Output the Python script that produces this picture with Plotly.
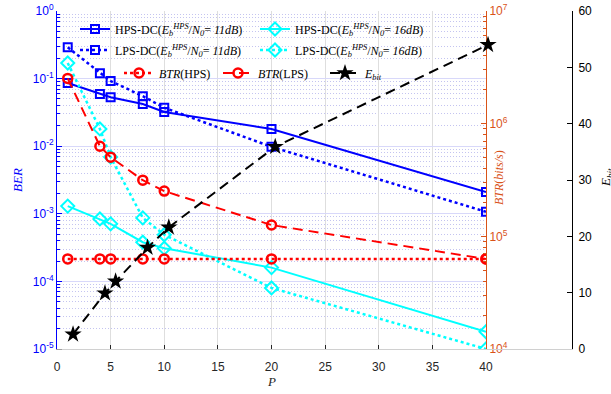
import plotly.graph_objects as go

# ---------------- data ----------------
P = [1, 4, 5, 8, 10, 20, 40]
ber_hps_11 = [0.086, 0.059, 0.053, 0.042, 0.032, 0.018, 0.0021]
ber_lps_11 = [0.29, 0.12, 0.092, 0.055, 0.037, 0.0098, 0.00107]
ber_hps_16 = [0.0013, 8.4e-4, 7.1e-4, 3.8e-4, 3.1e-4, 1.6e-4, 1.8e-5]
ber_lps_16 = [0.17, 0.018, 0.0069, 8.7e-4, 4.9e-4, 8.0e-5, 1.0e-5]
btr_hps = [6.3e4, 6.3e4, 6.3e4, 6.3e4, 6.3e4, 6.3e4, 6.3e4]
btr_lps = [2.52e6, 6.3e5, 5.04e5, 3.15e5, 2.52e5, 1.26e5, 6.3e4]
e_bit = [2.6, 9.9, 12.0, 18.0, 21.6, 35.9, 54.0]

x_ticks = [0, 5, 10, 15, 20, 25, 30, 35, 40]
ber_exps = [-5, -4, -3, -2, -1, 0]
btr_exps = [4, 5, 6, 7]
ebit_ticks = [0, 10, 20, 30, 40, 50, 60]

names = [
    "HPS-DC(<i>E</i><sub><i>b</i></sub><sup><i>HPS</i></sup>/<i>N</i><sub><i>0</i></sub>= <i>11dB</i>)",
    "HPS-DC(<i>E</i><sub><i>b</i></sub><sup><i>HPS</i></sup>/<i>N</i><sub><i>0</i></sub>= <i>16dB</i>)",
    "LPS-DC(<i>E</i><sub><i>b</i></sub><sup><i>HPS</i></sup>/<i>N</i><sub><i>0</i></sub>= <i>11dB</i>)",
    "LPS-DC(<i>E</i><sub><i>b</i></sub><sup><i>HPS</i></sup>/<i>N</i><sub><i>0</i></sub>= <i>16dB</i>)",
    "<i>BTR</i>(HPS)",
    "<i>BTR</i>(LPS)",
    "<i>E</i><sub><i>bit</i></sub>",
]

W, H = 611, 394
ML, MR, MT, MB = 57, 39, 11, 45
PW = W - ML - MR
PH = H - MT - MB
main_right = 486
ebit_left = 62.4

BLUE = "#0000FF"
CYAN = "#00FFFF"
RED = "#FF0000"
ORANGE = "#D95319"
SERIF = "Liberation Serif"
SANS = "Liberation Sans"

fig = go.Figure()

fig.add_trace(go.Scatter(x=P, y=ber_hps_11, name=names[0], mode="lines+markers",
                         line=dict(color=BLUE, width=2),
                         marker=dict(symbol="square-open", size=8, color=BLUE, line=dict(width=2, color=BLUE)),
                         xaxis="x", yaxis="y", legend="legend"))
fig.add_trace(go.Scatter(x=P, y=ber_hps_16, name=names[1], mode="lines+markers",
                         line=dict(color=CYAN, width=2),
                         marker=dict(symbol="diamond-open", size=10, color=CYAN, line=dict(width=2, color=CYAN)),
                         xaxis="x", yaxis="y", legend="legend2"))
fig.add_trace(go.Scatter(x=P, y=ber_lps_11, name=names[2], mode="lines+markers",
                         line=dict(color=BLUE, width=2.5, dash="dot"),
                         marker=dict(symbol="square-open", size=8, color=BLUE, line=dict(width=2, color=BLUE)),
                         xaxis="x", yaxis="y", legend="legend3"))
fig.add_trace(go.Scatter(x=P, y=ber_lps_16, name=names[3], mode="lines+markers",
                         line=dict(color=CYAN, width=2.5, dash="dot"),
                         marker=dict(symbol="diamond-open", size=10, color=CYAN, line=dict(width=2, color=CYAN)),
                         xaxis="x", yaxis="y", legend="legend4"))
fig.add_trace(go.Scatter(x=P, y=btr_hps, name=names[4], mode="lines+markers",
                         line=dict(color=RED, width=2.5, dash="dot"),
                         marker=dict(symbol="circle-open", size=9, color=RED, line=dict(width=2.5, color=RED)),
                         xaxis="x", yaxis="y2", legend="legend5"))
fig.add_trace(go.Scatter(x=P, y=btr_lps, name=names[5], mode="lines+markers",
                         line=dict(color=RED, width=2, dash="10px,6px"),
                         marker=dict(symbol="circle-open", size=9, color=RED, line=dict(width=2.5, color=RED)),
                         xaxis="x", yaxis="y2", legend="legend6"))
fig.add_trace(go.Scatter(x=P, y=e_bit, name=names[6], mode="lines+markers",
                         line=dict(color="black", width=2, dash="10px,6px"),
                         marker=dict(symbol="star", size=13, color="black"),
                         xaxis="x2", yaxis="y3", legend="legend7"))

grid_major_h = "rgb(216,216,250)"
grid_minor_h = "rgb(196,196,240)"
grid_major_v = "rgb(222,222,222)"

fig.update_layout(
    width=W, height=H,
    margin=dict(l=ML, r=MR, t=MT, b=MB, autoexpand=False),
    paper_bgcolor="white",
    plot_bgcolor="rgba(0,0,0,0)",
    font=dict(family=SANS, size=12, color="#262626"),
    xaxis=dict(domain=[0, (main_right - ML) / PW], range=[0, 40], tickvals=x_ticks,
               ticks="inside", ticklen=4, tickcolor="#262626", showline=True, linecolor="#a0a0a0",
               showgrid=True, gridcolor=grid_major_v, gridwidth=1, zeroline=False,
               ticklabelstandoff=7,
               tickfont=dict(family=SANS, size=12, color="#262626"), anchor="y"),
    yaxis=dict(type="log", range=[-5, 0],
               tickvals=[10.0 ** e for e in ber_exps],
               ticktext=["10<sup>%d</sup>" % e for e in ber_exps],
               ticks="inside", ticklen=5, tickcolor=BLUE, showline=True, linecolor=BLUE,
               showgrid=True, gridcolor=grid_major_h, gridwidth=1, zeroline=False,
               tickfont=dict(family=SANS, size=12, color=BLUE),
               minor=dict(dtick="D1", ticks="inside", ticklen=3, tickcolor=BLUE,
                          showgrid=True, gridcolor=grid_minor_h, griddash="1px,2px", gridwidth=1),
               anchor="x"),
    yaxis2=dict(type="log", range=[4, 7],
                tickvals=[10.0 ** e for e in btr_exps],
                ticktext=["10<sup>%d</sup>" % e for e in btr_exps],
                overlaying="y", side="right", anchor="x",
                ticks="inside", ticklen=5, tickcolor=ORANGE, showline=True, linecolor=ORANGE,
                showgrid=False, zeroline=False,
                tickfont=dict(family=SANS, size=12, color=ORANGE),
                minor=dict(dtick="D1", ticks="inside", ticklen=3, tickcolor=ORANGE, showgrid=False)),
    xaxis2=dict(domain=[(ebit_left - ML) / PW, 1], range=[0, (W - MR - ebit_left) / ((488 - 73) / 39)],
                anchor="y3", showline=True, linecolor="#d0d0d0", showticklabels=False, ticks="",
                showgrid=False, zeroline=False),
    yaxis3=dict(range=[0, 60], tickvals=ebit_ticks, side="right", anchor="x2",
                ticks="inside", ticklen=5, tickcolor="black", showline=True, linecolor="black",
                showgrid=False, zeroline=False, ticklabelstandoff=3,
                tickfont=dict(family=SANS, size=12, color="black")),
    showlegend=True,
)

leg_pos = [(97, 29), (277, 29), (97, 50), (277, 50), (141, 73), (240, 73), (347, 73)]
leg_keys = ["legend", "legend2", "legend3", "legend4", "legend5", "legend6", "legend7"]
for key, (mx, my) in zip(leg_keys, leg_pos):
    fig.update_layout({key: dict(x=(mx - 22) / W, y=1 - my / H, xref="container", yref="container",
                                 xanchor="left", yanchor="middle", bgcolor="rgba(0,0,0,0)",
                                 borderwidth=0, font=dict(family=SERIF, size=12, color="black"),
                                 orientation="h")})

def title(text, px, py, angle, size, color):
    fig.add_annotation(text=text, x=(px - ML) / PW, y=(H - MB - py) / PH, xref="paper", yref="paper",
                       xanchor="center", yanchor="middle", showarrow=False, textangle=angle,
                       font=dict(family=SERIF, size=size, color=color))

title("<i>BER</i>", 17, 180, -90, 13, BLUE)
title("<i>P</i>", 271, 381, 0, 13, "#262626")
title("<i>BTR</i>(<i>bits/s</i>)", 499, 178, -90, 12, ORANGE)
title("<i>E</i><sub><i>bit</i></sub>", 606, 178, -90, 13, "black")

fig.write_html("out.html")
